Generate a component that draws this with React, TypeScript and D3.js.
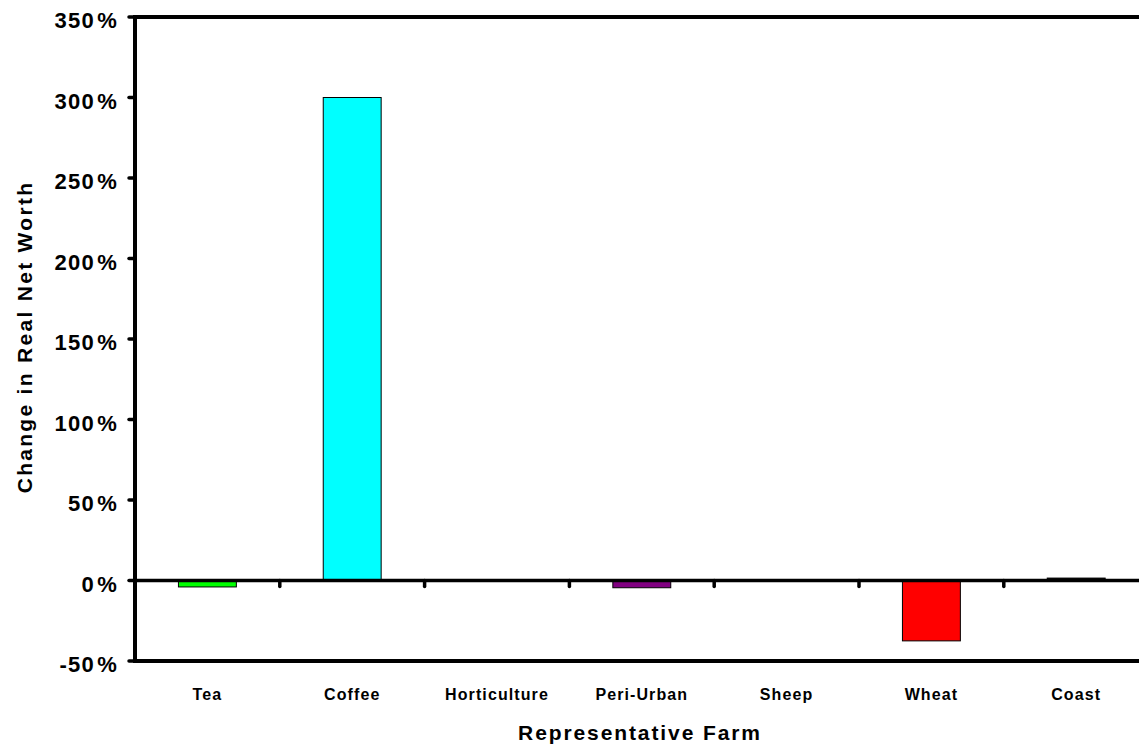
import React from "react";
import * as d3 from "d3";

const categories = ["Tea", "Coffee", "Horticulture", "Peri-Urban", "Sheep", "Wheat", "Coast"];
const values = [-4, 300, 0, -4.5, 0, -37.5, 1.5];
const colors = ["#00FF00", "#00FFFF", "#FFFF00", "#800080", "#FF00FF", "#FF0000", "#000000"];
const yTicks = [-50, 0, 50, 100, 150, 200, 250, 300, 350];

const W = 1139;
const H = 746;
const left = 135;
const top = 17;
const bottom = 661;
const step = 144.8;

export default function App() {
  const y = d3.scaleLinear().domain([-50, 350]).range([bottom, top]);
  const x = d3
    .scaleBand<string>()
    .domain(categories)
    .range([left, left + step * categories.length])
    .paddingInner(0.6)
    .paddingOuter(0.3);
  const y0 = y(0);
  const font = "Arial, 'Liberation Sans', sans-serif";
  const boundaries = categories.slice(1).map((c) => (x(c) as number) - x.step() * 0.3);

  return (
    <div style={{ position: "absolute", left: 0, top: 0 }}>
      <svg width={W} height={H} style={{ display: "block", background: "#fff" }}>
        {/* bars */}
        {categories.map((c, i) => {
          const v = values[i];
          if (v === 0) return null;
          const y1 = y(Math.max(0, v));
          const y2 = y(Math.min(0, v));
          return (
            <rect
              key={c}
              x={x(c)}
              y={y1}
              width={x.bandwidth()}
              height={Math.max(0.5, y2 - y1)}
              fill={colors[i]}
              stroke="#000"
              strokeWidth={1}
            />
          );
        })}
        {/* frame lines */}
        <line x1={left} x2={W} y1={top} y2={top} stroke="#000" strokeWidth={4} />
        <line x1={left} x2={W} y1={bottom} y2={bottom} stroke="#000" strokeWidth={4} />
        <line x1={left} x2={W} y1={y0} y2={y0} stroke="#000" strokeWidth={3.5} />
        <line x1={left} x2={left} y1={top - 2} y2={bottom + 2} stroke="#000" strokeWidth={4} />
        {/* y ticks */}
        {yTicks.map((t) => (
          <g key={t}>
            <line x1={left - 6} x2={left} y1={y(t)} y2={y(t)} stroke="#000" strokeWidth={3.5} strokeLinecap="round" />
            <text
              x={118}
              y={y(t) + 11}
              textAnchor="end"
              fontFamily={font}
              fontWeight="bold"
              fontSize={22}
              letterSpacing={1.3}
            >
              {t}
              <tspan dx={2}>%</tspan>
            </text>
          </g>
        ))}
        {/* category ticks */}
        {boundaries.map((b, i) => (
          <line key={i} x1={b} x2={b} y1={y0} y2={y0 + 6} stroke="#000" strokeWidth={3.5} strokeLinecap="round" />
        ))}
        {/* category labels */}
        {categories.map((c) => (
          <text
            key={c}
            x={(x(c) as number) + x.bandwidth() / 2}
            y={700}
            textAnchor="middle"
            fontFamily={font}
            fontWeight="bold"
            fontSize={16}
            letterSpacing={1.1}
          >
            {c}
          </text>
        ))}
        <text x={640} y={740} textAnchor="middle" fontFamily={font} fontWeight="bold" fontSize={21} letterSpacing={1.9}>
          Representative Farm
        </text>
        <text
          transform={`translate(32, 337) rotate(-90)`}
          textAnchor="middle"
          fontFamily={font}
          fontWeight="bold"
          fontSize={21}
          letterSpacing={2.3}
        >
          Change in Real Net Worth
        </text>
      </svg>
    </div>
  );
}
